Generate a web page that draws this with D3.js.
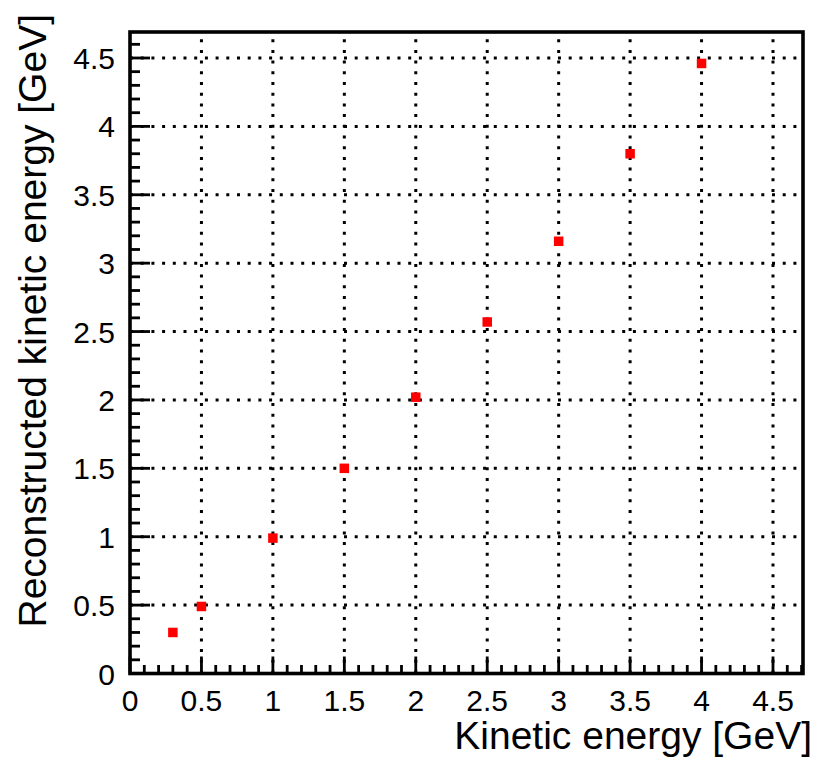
<!DOCTYPE html>
<html>
<head>
<meta charset="utf-8">
<script src="https://cdn.jsdelivr.net/npm/d3@7"></script>
<style>
  html, body { margin: 0; padding: 0; background: #fff; }
  svg { display: block; }
  text { font-family: "Liberation Sans", Arial, sans-serif; fill: #000; }
</style>
</head>
<body>
<svg id="chart" width="821" height="766"></svg>
<script>
// ---- data ----
const kineticEnergy = [0.3, 0.5, 1.0, 1.5, 2.0, 2.5, 3.0, 3.5, 4.0];
const reconstructed = [0.30, 0.49, 0.99, 1.50, 2.02, 2.57, 3.16, 3.80, 4.46];
const xTickValues = [0, 0.5, 1, 1.5, 2, 2.5, 3, 3.5, 4, 4.5];
const xTickLabels = ["0", "0.5", "1", "1.5", "2", "2.5", "3", "3.5", "4", "4.5"];
const yTickValues = [0, 0.5, 1, 1.5, 2, 2.5, 3, 3.5, 4, 4.5];
const yTickLabels = ["0", "0.5", "1", "1.5", "2", "2.5", "3", "3.5", "4", "4.5"];
const xTitle = "Kinetic energy [GeV]";
const yTitle = "Reconstructed kinetic energy [GeV]";
const xMax = 4.71, yMax = 4.69;

// ---- layout ----
const L = 130, R = 803, T = 32, B = 673.5;
const svg = d3.select("#chart");
const x = d3.scaleLinear().domain([0, xMax]).range([L, R]);
const y = d3.scaleLinear().domain([0, yMax]).range([B, T]);

const minorX = d3.range(0, xMax + 1e-9, 0.1).map(v => +v.toFixed(2));
const minorY = d3.range(0, yMax + 1e-9, 0.1).map(v => +v.toFixed(2));
const isMajor = v => Math.abs(v * 2 - Math.round(v * 2)) < 1e-6;

// grid
const grid = svg.append("g")
  .attr("stroke", "#000").attr("stroke-width", 3)
  .attr("stroke-dasharray", "3,7.7").attr("fill", "none");
grid.selectAll("line.gx").data(xTickValues.filter(v => v > 0)).join("line")
  .attr("class", "gx")
  .attr("x1", d => x(d)).attr("x2", d => x(d)).attr("y1", B).attr("y2", T);
grid.selectAll("line.gy").data(yTickValues.filter(v => v > 0)).join("line")
  .attr("class", "gy")
  .attr("y1", d => y(d)).attr("y2", d => y(d)).attr("x1", L).attr("x2", R);

// ticks (inside)
const ticks = svg.append("g").attr("stroke", "#000").attr("stroke-width", 2.8);
ticks.selectAll("line.tx").data(minorX).join("line").attr("class", "tx")
  .attr("x1", d => x(d)).attr("x2", d => x(d))
  .attr("y1", B).attr("y2", d => B - (isMajor(d) ? 17 : 8.5));
ticks.selectAll("line.ty").data(minorY).join("line").attr("class", "ty")
  .attr("y1", d => y(d)).attr("y2", d => y(d))
  .attr("x1", L).attr("x2", d => L + (isMajor(d) ? 20 : 10));

// frame
svg.append("rect").attr("x", L).attr("y", T).attr("width", R - L).attr("height", B - T)
  .attr("fill", "none").attr("stroke", "#000").attr("stroke-width", 3.6);

// tick labels
svg.append("g").selectAll("text").data(xTickValues).join("text")
  .attr("x", d => x(d)).attr("y", 711)
  .attr("text-anchor", "middle").attr("font-size", 30)
  .text((d, i) => xTickLabels[i]);
svg.append("g").selectAll("text").data(yTickValues).join("text")
  .attr("x", 115).attr("y", d => y(d) + 11)
  .attr("text-anchor", "end").attr("font-size", 30)
  .text((d, i) => yTickLabels[i]);

// axis titles
svg.append("text").attr("x", 812).attr("y", 749)
  .attr("text-anchor", "end").attr("font-size", 39).text(xTitle);
svg.append("text")
  .attr("transform", "translate(46,14) rotate(-90)")
  .attr("text-anchor", "end").attr("font-size", 39).text(yTitle);

// markers
const s = 9.5;
svg.append("g").selectAll("rect").data(kineticEnergy).join("rect")
  .attr("x", (d, i) => x(d) - s / 2)
  .attr("y", (d, i) => y(reconstructed[i]) - s / 2)
  .attr("width", s).attr("height", s)
  .attr("fill", "#ff0000");
</script>
</body>
</html>
